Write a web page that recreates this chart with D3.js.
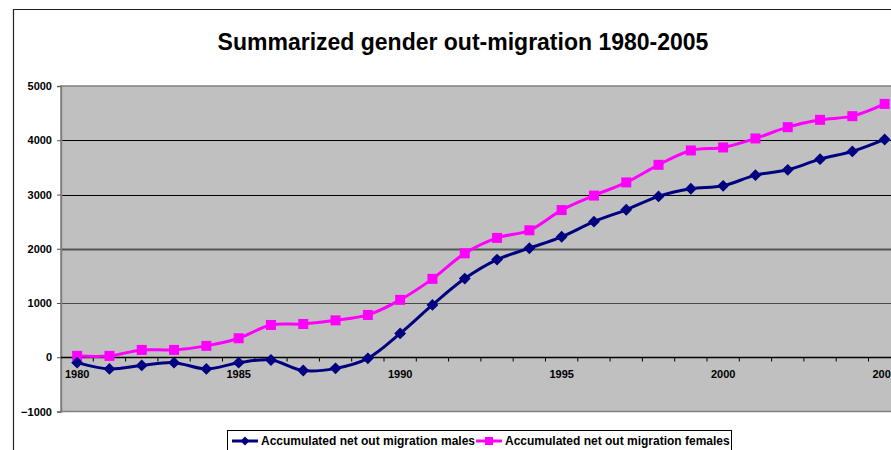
<!DOCTYPE html>
<html>
<head>
<meta charset="utf-8">
<script src="https://cdn.jsdelivr.net/npm/d3@7"></script>
<style>
  body { margin: 0; background: #fff; }
  svg { display: block; font-family: Arial, "Liberation Sans", sans-serif; }
</style>
</head>
<body>
<svg id="chart" width="891" height="450"></svg>
<script>
// chart data
var years = d3.range(1980, 2006);
var males = [-100, -215, -150, -100, -215, -100, -50, -245, -205, -20,
             440, 965, 1450, 1800, 2010, 2220, 2500, 2718, 2965, 3105,
             3160, 3357, 3455, 3652, 3794, 4015];
var females = [25, 25, 135, 135, 210, 350, 595, 613, 680, 780,
               1058, 1445, 1915, 2200, 2340, 2713, 2980, 3223, 3547, 3812,
               3867, 4033, 4241, 4376, 4444, 4670];
var yTicks = [-1000, 0, 1000, 2000, 3000, 4000, 5000];
var xLabels = [1980, 1985, 1990, 1995, 2000, 2005];
var seriesNames = ["Accumulated net out migration males", "Accumulated net out migration females"];

// plot area
var plotLeft = 61, plotTop = 86, plotBottom = 411.5, bandW = 32.3;
var plotRight = plotLeft + years.length * bandW;

var svg = d3.select("#chart");

var x = d3.scaleBand().domain(years).range([plotLeft, plotRight]).padding(0);
var y = d3.scaleLinear().domain([-1000, 5000]).range([plotBottom, plotTop]);
var cx = function(d) { return x(d) + x.bandwidth() / 2; };

// outer chart frame
svg.append("path")
  .attr("d", "M13.5,460 L13.5,9.5 L900,9.5")
  .attr("fill", "none").attr("stroke", "#222").attr("stroke-width", 1.2);

// title
svg.append("text")
  .attr("x", 463).attr("y", 50)
  .attr("text-anchor", "middle")
  .attr("font-size", 23).attr("font-weight", "bold")
  .text("Summarized gender out-migration 1980-2005");

// plot background
svg.append("rect")
  .attr("x", plotLeft).attr("y", plotTop)
  .attr("width", plotRight - plotLeft).attr("height", plotBottom - plotTop)
  .attr("fill", "#c0c0c0").attr("stroke", "#808080").attr("stroke-width", 1.5);

// gridlines
var gridStyle = {1000: ["#4a4a4a", 1.2], 2000: ["#555", 2], 3000: ["#000", 1.2], 4000: ["#000", 1.2]};
svg.append("g").selectAll("line")
  .data([1000, 2000, 3000, 4000])
  .join("line")
  .attr("x1", plotLeft).attr("x2", plotRight)
  .attr("y1", function(d) { return Math.round(y(d)) + 0.5; })
  .attr("y2", function(d) { return Math.round(y(d)) + 0.5; })
  .attr("stroke", function(d) { return gridStyle[d][0]; })
  .attr("stroke-width", function(d) { return gridStyle[d][1]; });

// y axis
var yAxis = svg.append("g")
  .attr("transform", "translate(" + plotLeft + ",0)")
  .call(d3.axisLeft(y).tickValues(yTicks).tickSize(4).tickPadding(5).tickFormat(d3.format("d")));
yAxis.select(".domain").attr("stroke", "#808080").attr("stroke-width", 1.5);
yAxis.selectAll(".tick line").attr("stroke", "#555");
yAxis.selectAll("text")
  .attr("font-size", 11).attr("font-weight", "bold").attr("fill", "#000")
  .attr("font-family", "Arial, 'Liberation Sans', sans-serif");

// x axis on zero line
var y0 = Math.round(y(0)) + 0.5;
var xAxis = svg.append("g")
  .attr("transform", "translate(0," + y0 + ")")
  .call(d3.axisBottom(x).tickValues(xLabels).tickSize(0).tickPadding(13));
xAxis.select(".domain").remove();
xAxis.selectAll("text")
  .attr("font-size", 11).attr("font-weight", "bold").attr("fill", "#000")
  .attr("font-family", "Arial, 'Liberation Sans', sans-serif");
svg.append("line")
  .attr("x1", plotLeft).attr("x2", plotRight)
  .attr("y1", y0).attr("y2", y0)
  .attr("stroke", "#000").attr("stroke-width", 1.5);
svg.append("g").selectAll("line")
  .data(years.slice(1))
  .join("line")
  .attr("x1", function(d) { return x(d); }).attr("x2", function(d) { return x(d); })
  .attr("y1", y0).attr("y2", y0 + 4)
  .attr("stroke", "#000");

// lines
var line = d3.line()
  .x(function(d, i) { return cx(years[i]); })
  .y(function(d) { return y(d); })
  .curve(d3.curveCatmullRom.alpha(0.5));

svg.append("path").datum(females)
  .attr("d", line).attr("fill", "none")
  .attr("stroke", "#ff00ff").attr("stroke-width", 3);
svg.append("path").datum(males)
  .attr("d", line).attr("fill", "none")
  .attr("stroke", "#000080").attr("stroke-width", 3);

// markers
var diamond = d3.symbol().type(d3.symbolDiamond2).size(90);
svg.append("g").selectAll("rect")
  .data(females)
  .join("rect")
  .attr("x", function(d, i) { return cx(years[i]) - 5; })
  .attr("y", function(d) { return y(d) - 5; })
  .attr("width", 10).attr("height", 10)
  .attr("fill", "#ff00ff");
svg.append("g").selectAll("path")
  .data(males)
  .join("path")
  .attr("transform", function(d, i) { return "translate(" + cx(years[i]) + "," + y(d) + ")"; })
  .attr("d", diamond)
  .attr("fill", "#000080");

// legend
var lg = svg.append("g");
lg.append("rect")
  .attr("x", 227.5).attr("y", 430.5)
  .attr("width", 504).attr("height", 24)
  .attr("fill", "#fff").attr("stroke", "#000");
var legendItems = [
  {name: seriesNames[0], color: "#000080", x0: 232, tx: 261, kind: "diamond"},
  {name: seriesNames[1], color: "#ff00ff", x0: 476, tx: 505, kind: "square"}
];
legendItems.forEach(function(it) {
  lg.append("line")
    .attr("x1", it.x0).attr("x2", it.x0 + 26)
    .attr("y1", 441).attr("y2", 441)
    .attr("stroke", it.color).attr("stroke-width", 3);
  if (it.kind === "diamond") {
    lg.append("path")
      .attr("transform", "translate(" + (it.x0 + 13) + ",441)")
      .attr("d", d3.symbol().type(d3.symbolDiamond2).size(50))
      .attr("fill", it.color);
  } else {
    lg.append("rect")
      .attr("x", it.x0 + 9).attr("y", 437).attr("width", 8).attr("height", 8)
      .attr("fill", it.color);
  }
  lg.append("text")
    .attr("x", it.tx).attr("y", 445)
    .attr("font-size", 12).attr("font-weight", "bold")
    .text(it.name);
});
</script>
</body>
</html>
